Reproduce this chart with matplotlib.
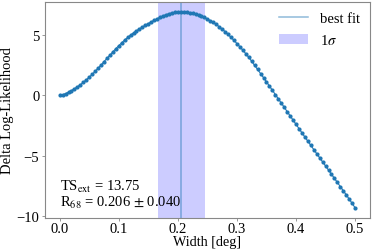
import matplotlib
matplotlib.use("Agg")
import matplotlib.pyplot as plt
import numpy as np

width = [0.000, 0.005, 0.010, 0.015, 0.020, 0.025, 0.030, 0.035, 0.040, 0.045,
         0.050, 0.055, 0.060, 0.065, 0.070, 0.075, 0.080, 0.085, 0.090, 0.095,
         0.100, 0.105, 0.110, 0.115, 0.120, 0.125, 0.130, 0.135, 0.140, 0.145,
         0.150, 0.155, 0.160, 0.165, 0.170, 0.175, 0.180, 0.185, 0.190, 0.195,
         0.200, 0.205, 0.210, 0.215, 0.220, 0.225, 0.230, 0.235, 0.240, 0.245,
         0.250, 0.255, 0.260, 0.265, 0.270, 0.275, 0.280, 0.285, 0.290, 0.295,
         0.300, 0.305, 0.310, 0.315, 0.320, 0.325, 0.330, 0.335, 0.340, 0.345,
         0.350, 0.355, 0.360, 0.365, 0.370, 0.375, 0.380, 0.385, 0.390, 0.395,
         0.400, 0.405, 0.410, 0.415, 0.420, 0.425, 0.430, 0.435, 0.440, 0.445,
         0.450, 0.455, 0.460, 0.465, 0.470, 0.475, 0.480, 0.485, 0.490, 0.495,
         0.500]
dlogl = [0.00, 0.04, 0.13, 0.25, 0.38, 0.53, 0.69, 0.86, 1.05, 1.26,
         1.48, 1.71, 1.96, 2.22, 2.49, 2.76, 3.03, 3.30, 3.57, 3.83,
         4.08, 4.32, 4.55, 4.76, 4.96, 5.14, 5.31, 5.47, 5.62, 5.77,
         5.91, 6.05, 6.18, 6.31, 6.43, 6.54, 6.64, 6.72, 6.79, 6.84,
         6.87, 6.875, 6.87, 6.85, 6.81, 6.76, 6.70, 6.62, 6.53, 6.42,
         6.29, 6.15, 6.00, 5.83, 5.65, 5.45, 5.24, 5.01, 4.77, 4.52,
         4.26, 3.99, 3.71, 3.42, 3.12, 2.79, 2.45, 2.12, 1.78, 1.44,
         1.10, 0.75, 0.40, 0.05, -0.30, -0.65, -1.00, -1.36, -1.71, -2.06,
         -2.41, -2.76, -3.11, -3.46, -3.80, -4.15, -4.49, -4.83, -5.17, -5.51,
         -5.85, -6.19, -6.53, -6.87, -7.21, -7.55, -7.89, -8.23, -8.58, -8.94,
         -9.30]
best_fit = 0.206
sigma = 0.040
ts_ext = 13.75

plt.rcParams['font.family'] = ['Liberation Serif', 'DejaVu Serif']
plt.rcParams['mathtext.fontset'] = 'stix'

fig = plt.figure(figsize=(3.74, 2.53), dpi=100)
ax = fig.add_axes([0.12, 0.136, 0.869, 0.852])

ax.axvspan(best_fit - sigma, best_fit + sigma, color='blue', alpha=0.2, lw=0, label=r'1$\sigma$')
ax.axvline(best_fit, color='#1f77b4', alpha=0.5, lw=1.1, label='best fit')
ax.plot(width, dlogl, '-o', color='#1f77b4', ms=2.0, lw=0.8, zorder=3)

ax.set_xlabel('Width [deg]', fontsize=10.2, labelpad=-0.5)
ax.set_ylabel('Delta Log-Likelihood', fontsize=10.5, labelpad=2)
ax.tick_params(labelsize=10.5, length=2.5, width=0.6, color='#888888', pad=1.5)
ax.tick_params(axis='x', pad=1)
for s in ax.spines.values():
    s.set_color('#888888')
    s.set_linewidth(0.8)
ax.set_xticks([0.0, 0.1, 0.2, 0.3, 0.4, 0.5])
ax.set_yticks([-10, -5, 0, 5])

handles, labels = ax.get_legend_handles_labels()
ax.legend(handles[::-1], labels[::-1], loc='upper right', frameon=False, fontsize=10.5,
          borderaxespad=0.3, handlelength=2.0)

ax.text(0.045, 0.035, 'TS$_{\\rm ext}$ = %.2f\nR$_{68}$ = %.3f $\\pm$ %.3f' % (ts_ext, best_fit, sigma),
        transform=ax.transAxes, fontsize=10.5, ha='left', va='bottom', linespacing=1.0)

fig.savefig('out.png', dpi=100)
